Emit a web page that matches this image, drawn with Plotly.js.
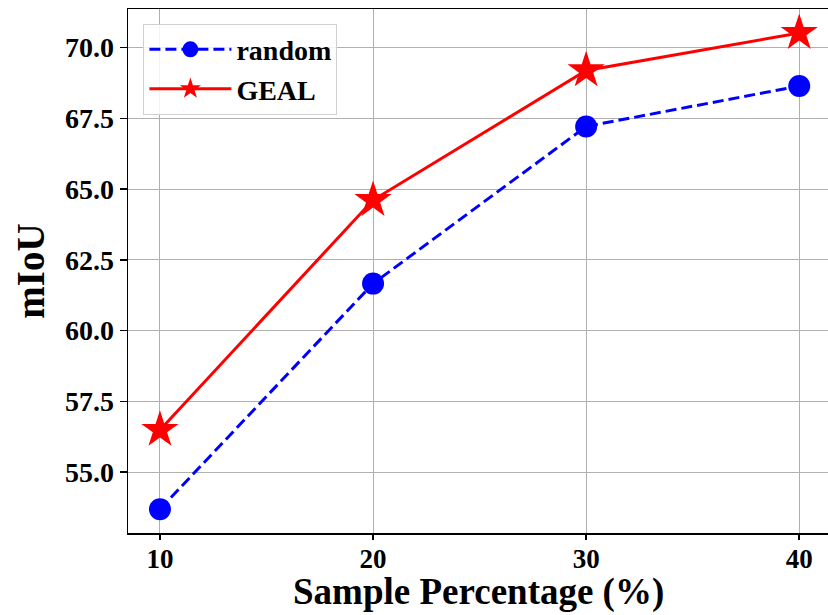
<!DOCTYPE html>
<html>
<head>
<meta charset="utf-8">
<script src="https://cdn.plot.ly/plotly-3.0.1.min.js"></script>
<style>html,body{margin:0;padding:0;background:#fff;overflow:hidden;}</style>
</head>
<body>
<div id="chart" style="width:828px;height:615px;"></div>
<script>
const samplePct = [10, 20, 30, 40];
const randomMIoU = [53.69, 61.66, 67.21, 68.64];
const gealMIoU = [56.49, 64.61, 69.19, 70.51];
const xTicks = [10, 20, 30, 40];
const yTicks = [55.0, 57.5, 60.0, 62.5, 65.0, 67.5, 70.0];

const font = 'Liberation Serif, Times New Roman, serif';

const traces = [
  {
    x: samplePct, y: randomMIoU, name: 'random', type: 'scatter', mode: 'lines+markers',
    line: {color: '#0000ff', width: 3, dash: '11px,5px'},
    marker: {symbol: 'circle', size: 22, color: '#0000ff'}
  },
  {
    x: samplePct, y: gealMIoU, name: 'GEAL', type: 'scatter', mode: 'lines+markers',
    line: {color: '#ff0000', width: 3},
    marker: {symbol: 'star', size: 28, color: '#ff0000'}
  }
];

const layout = {
  width: 828, height: 615,
  margin: {l: 128, r: 0, t: 9, b: 82},
  paper_bgcolor: '#fff', plot_bgcolor: '#fff',
  font: {family: font, color: '#000'},
  showlegend: true,
  legend: {
    x: 0.022, y: 0.972, xanchor: 'left', yanchor: 'top',
    bgcolor: 'rgba(255,255,255,0.85)', bordercolor: '#d0d0d0', borderwidth: 1,
    font: {family: font, size: 28, color: '#000', weight: 'bold'},
    itemwidth: 82
  },
  xaxis: {
    range: [8.5, 41.35],
    tickvals: xTicks, ticktext: xTicks.map(String),
    ticks: 'outside', ticklen: 5, tickwidth: 1.5, tickcolor: '#000',
    ticklabelstandoff: -4,
    showline: true, linecolor: '#000', linewidth: 1.5, mirror: true,
    showgrid: true, gridcolor: '#b0b0b0', gridwidth: 1,
    zeroline: false,
    tickfont: {family: font, size: 27, color: '#000', weight: 'bold'},
    title: {text: ''}
  },
  yaxis: {
    range: [52.85, 71.36],
    tickvals: yTicks, ticktext: yTicks.map(v => v.toFixed(1)),
    ticks: 'outside', ticklen: 7, tickwidth: 1.5, tickcolor: '#000',
    showline: true, linecolor: '#000', linewidth: 1.5, mirror: false,
    showgrid: true, gridcolor: '#b0b0b0', gridwidth: 1,
    zeroline: false,
    tickfont: {family: font, size: 28, color: '#000', weight: 'bold'},
    title: {text: 'mIoU', font: {family: font, size: 39, color: '#000', weight: 'bold'}, standoff: 8}
  },
  annotations: [{
    text: 'Sample Percentage (%)', xref: 'paper', yref: 'paper',
    x: 0.5, y: 0, xanchor: 'center', yanchor: 'bottom', yshift: -82,
    showarrow: false,
    font: {family: font, size: 37, color: '#000', weight: 'bold'}
  }]
};

Plotly.newPlot('chart', traces, layout, {displayModeBar: false, staticPlot: true});
</script>
</body>
</html>
